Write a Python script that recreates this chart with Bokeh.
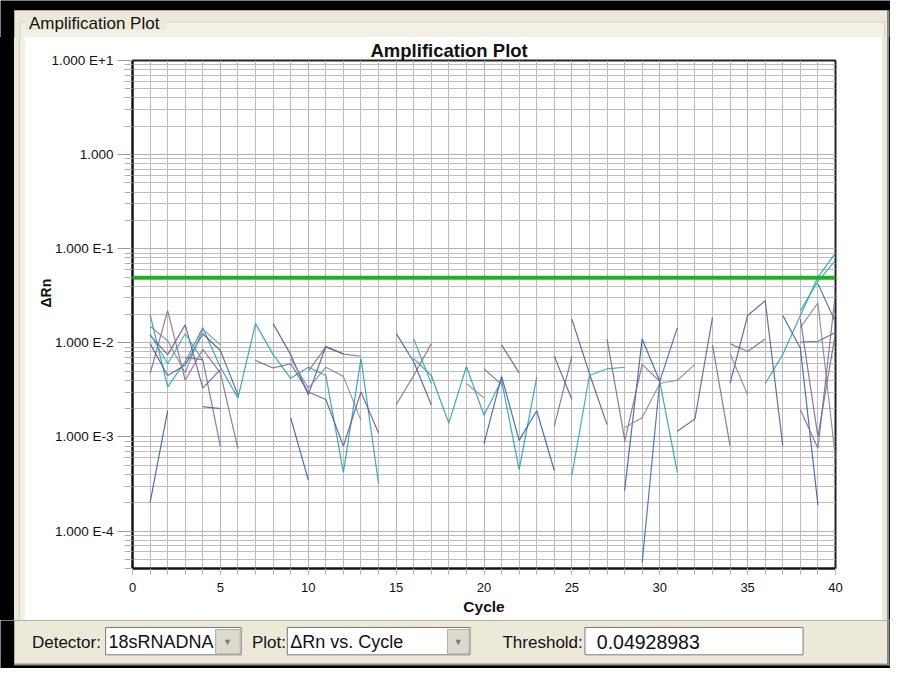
import numpy as np
from bokeh.plotting import figure
from bokeh.layouts import column, row
from bokeh.models import (Range1d, FixedTicker, CustomJSTickFormatter, Span, Title, Div)
from bokeh.core.properties import value
from bokeh.embed import file_html
from bokeh.resources import INLINE

N = None

# ---------------- data (cycles 1..40, None = no value on log scale) ----------
cycles = list(range(1, 41))

well_a = [0.020, 0.0034, 0.0063, 0.0145, 0.0055, 0.0026, 0.016, 0.0075, 0.0042, 0.0055,
          0.0045, 4.2e-4, 0.0068, 3.2e-4, N, 0.0068, 0.0045, 0.0014, 0.0056, 0.0017,
          0.0040, 4.5e-4, 0.0043, N, N, N, N, N, N, 0.0039,
          4.2e-4, N, N, N, N, 0.0037, 0.0075, 0.0195, 0.050, 0.090]
well_b = [2.0e-4, 1.9e-3, N, N, N, N, N, N, 1.6e-3, 3.5e-4,
          N, N, N, N, N, N, N, N, N, 8.5e-4,
          0.0044, 9.2e-4, 0.0019, 4.4e-4, N, N, N, 2.7e-4, 0.011, 0.0039,
          N, N, N, N, N, N, 0.0195, 0.0088, 1.9e-4, N]
well_c = [0.0047, 0.022, 0.0040, 0.0085, 0.0048, 7.5e-4, N, N, N, 0.0050,
          0.0090, 0.0076, 0.0072, N, 0.0022, 0.0045, 0.0098, N, N, 0.0053,
          0.0036, N, N, 0.0013, 0.0072, N, N, 8.9e-4, 0.0059, 0.0039,
          N, N, N, 0.0098, 0.0081, 0.011, N, 0.00195, 7.6e-4, 0.034]
well_d = [0.012, 0.0075, 0.0155, 0.0033, 0.0052, N, 0.0065, 0.0054, 0.0060, 0.0030,
          0.0025, 8.0e-4, 0.0030, 0.0011, N, N, N, N, N, N,
          0.0095, 0.0048, N, 0.0072, 0.0025, N, N, N, N, N,
          0.00115, 0.00155, 0.0186, N, N, N, N, 0.0102, 0.0104, 0.0129]
well_e = [0.0098, 0.0045, 0.0058, 0.0125, 0.0083, 0.0028, N, 0.016, 0.0075, 0.0028,
          0.0092, 0.0076, N, N, 0.0126, 0.0063, 0.0022, N, N, N,
          N, N, N, N, 0.0178, 0.0047, 0.00135, N, N, N,
          N, N, N, 0.0037, 0.0195, 0.028, 8.1e-4, N, N, N]
well_f = [0.015, 0.0105, 0.0048, 0.014, 0.0095, N, N, N, 0.0068, 0.0033,
          0.0055, 0.0044, 0.0015, N, N, N, N, N, 0.0037, 0.0026,
          N, N, N, N, N, N, N, 0.00126, 0.0016, 0.0037,
          0.0040, 0.0059, N, 0.0077, 0.0028, N, N, 0.0145, 0.0266, 5.9e-4]
well_g = [0.0125, 0.0060, 0.0125, 0.0065, N, N, N, N, N, N,
          N, N, N, N, N, 0.011, 0.0037, N, N, N,
          N, N, N, N, 3.9e-4, 0.0045, 0.0053, 0.0055, N, N,
          N, N, N, N, N, N, N, 0.022, 0.045, 0.075]
well_h = [N, N, N, 0.0021, 0.0020, N, N, N, N, N,
          N, N, N, N, N, N, N, N, N, N,
          N, N, N, N, N, N, N, N, 4.6e-5, 0.0039,
          0.0145, N, N, N, N, N, N, N, 0.0425, 0.0166]
well_i = [N, N, 0.0070, 0.0066, 8.0e-4, N, N, N, N, N,
          N, N, N, N, N, N, N, N, N, N,
          N, N, N, N, N, N, 0.011, 9.5e-4, N, N,
          N, N, 0.0095, 8.1e-4, N, N, N, 0.018, 1.0e-3, 0.0129]

wells = [well_a, well_b, well_c, well_d, well_e, well_f, well_g, well_h, well_i]
well_colors = ["#2b9fb6", "#3a62a5", "#8c6b88", "#6a5c98", "#4a6199",
               "#8a8898", "#31aabb", "#3f6db0", "#7c6a93"]

threshold = 0.04928983
y_major = [1e-4, 1e-3, 1e-2, 1e-1, 1.0, 10.0]
x_major = [0, 5, 10, 15, 20, 25, 30, 35, 40]

title_text = "Amplification Plot"
group_text = "Amplification Plot"
x_label = "Cycle"
y_label = "ΔRn"
detector_name = "18sRNADNA"
plot_choice = "ΔRn vs. Cycle"

# ---------------- layout geometry ----------------
# canvas 890 x 668 shows the whole 906 x 684 window, slightly scaled
FONT = "Liberation Sans"
CW, CH = 890, 668
KX, KY = 906 / CW, 684 / CH          # canvas px -> reference px
TOP_H = 37                            # canvas rows 0..37   : window top
MID_H = 583                           # canvas rows 37..620 : plot panel
BOT_H = CH - TOP_H - MID_H            # canvas rows 620..668: controls
LEFT_W, RIGHT_W = 25, 8
MAIN_W = CW - LEFT_W - RIGHT_W
FRAME_L, FRAME_R, FRAME_T, FRAME_B = 132, 835, 59, 568   # canvas px
BEIGE = "#ECE9D8"
BAND = "#F3F1E7"
EDGE = "#8e8e8e"


def strip(h, y_top):
    f = figure(width=CW, height=h, output_backend="svg",
               toolbar_location=None, x_axis_type=None, y_axis_type=None,
               x_range=Range1d(0, CW * KX),
               y_range=Range1d((y_top + h) * KY, y_top * KY),
               min_border=0, outline_line_color=None)
    f.background_fill_color = "black"
    f.border_fill_color = "black"
    return f


def rect(f, x0, x1, y0, y1, fill, line=None, lw=1):
    f.quad(left=[x0], right=[x1], top=[y0], bottom=[y1], fill_color=fill,
           line_color=line, line_width=lw)


def label(f, x, y, t, size, color="#111111", align="left"):
    f.text(x=[x], y=[y], text=[t], text_font=value(FONT),
           text_font_size=f"{size}px", text_baseline="middle",
           text_align=align, text_color=color)


# top strip: black edge, beige window, group box header (reference px)
top = strip(TOP_H, 0)
rect(top, 14, 903, 10, 100, BEIGE)
rect(top, 903, 905, 10, 100, EDGE)
rect(top, 20, 900, 22, 100, BAND, "#d2d0c2")
rect(top, 25, 168, 12, 30, BEIGE)
label(top, 29, 24, group_text, 17)

# side strips
left = Div(text="", width=LEFT_W, height=MID_H, margin=0,
           styles={"background": "linear-gradient(to right, #000 0px, #000 14px, "
                   f"{BEIGE} 14px, {BEIGE} 19px, #d2d0c2 19px, #d2d0c2 20px, "
                   f"{BAND} 20px, {BAND} 25px)", "padding": "0"})
right = Div(text="", width=RIGHT_W, height=MID_H, margin=0,
            styles={"background": f"linear-gradient(to right, {BEIGE} 0px, {BEIGE} 5px, "
                    f"{EDGE} 5px, {EDGE} 7px, #000 7px, #000 8px)", "padding": "0"})

# bottom strip with controls (reference px)
bot = strip(BOT_H, TOP_H + MID_H)
rect(bot, 14, 903, 600, 680, BEIGE)
rect(bot, 903, 905, 600, 681, EDGE)
rect(bot, 14, 905, 679, 681, EDGE)
rect(bot, 107, 245, 642, 670, "white", "#7a7a7a")
rect(bot, 219, 244, 644, 669, "#DCD9CE", "#b0aea4")
rect(bot, 292, 478, 642, 670, "white", "#7a7a7a")
rect(bot, 455, 477, 644, 669, "#DCD9CE", "#b0aea4")
rect(bot, 595, 817, 642, 670, "white", "#7a7a7a")
label(bot, 32, 657, "Detector:", 17)
label(bot, 110, 657, detector_name, 18)
label(bot, 231, 657, "▼", 9, "#777777", "center")
label(bot, 256, 657, "Plot:", 17)
label(bot, 295, 657, plot_choice, 18)
label(bot, 466, 657, "▼", 9, "#777777", "center")
label(bot, 511, 657, "Threshold:", 17)
label(bot, 607, 657, f"{threshold:.8f}", 19.5)

# ---------------- main plot ----------------
p = figure(width=MAIN_W, height=MID_H, output_backend="svg",
           toolbar_location=None, y_axis_type="log",
           x_range=Range1d(0, 40), y_range=Range1d(4.0e-5, 10),
           min_border_left=FRAME_L - LEFT_W, min_border_right=LEFT_W + MAIN_W - FRAME_R,
           min_border_top=FRAME_T - TOP_H, min_border_bottom=TOP_H + MID_H - FRAME_B)
p.border_fill_color = "white"
p.background_fill_color = "white"
p.outline_line_color = "#222222"
p.outline_line_width = 2

p.add_layout(Title(text=title_text, align="left", offset=238, standoff=0,
                   text_font=FONT, text_font_size="18.5px",
                   text_font_style="bold", text_color="#111111"), "above")
p.add_layout(Title(text=y_label, align="left", offset=261, standoff=-10,
                   text_font=FONT, text_font_size="14px",
                   text_font_style="bold", text_color="#111111"), "left")

y_minor = [k * 10.0 ** e for e in range(-5, 1) for k in range(2, 10)]
p.yaxis.ticker = FixedTicker(ticks=y_major, minor_ticks=y_minor)
p.yaxis.formatter = CustomJSTickFormatter(code="""
const e = Math.round(Math.log10(tick));
if (e === 0) return "1.000";
return "1.000 E" + (e > 0 ? "+" : "") + e;
""")
p.xaxis.ticker = FixedTicker(ticks=x_major, minor_ticks=list(range(0, 41)))

for ax in (p.xaxis, p.yaxis):
    ax.axis_line_color = "#111111"
    ax.axis_line_width = 2
    ax.major_tick_in = 0
    ax.minor_tick_in = 0
    ax.major_tick_line_color = "#9a9a9a"
    ax.minor_tick_line_color = "#b0b0b0"
    ax.major_label_text_font = FONT
    ax.major_label_text_color = "#111111"

p.yaxis.major_tick_out = 15
p.yaxis.minor_tick_out = 8
p.yaxis.major_label_standoff = 4
p.yaxis.major_label_text_font_size = "13.5px"
p.xaxis.major_tick_out = 6
p.xaxis.minor_tick_out = 6
p.xaxis.major_label_standoff = 8
p.xaxis.major_label_text_font_size = "13px"
p.xaxis.axis_label = x_label
p.xaxis.axis_label_text_font = FONT
p.xaxis.axis_label_text_font_size = "15.5px"
p.xaxis.axis_label_text_font_style = "bold"
p.xaxis.axis_label_text_color = "#111111"
p.xaxis.axis_label_standoff = 3

for g in (p.xgrid, p.ygrid):
    g.grid_line_color = "#b4b4b4"
    g.minor_grid_line_color = "#bdbdbd"
    g.grid_line_width = 1
    g.minor_grid_line_width = 1

for vals, col in zip(wells, well_colors):
    y = np.array([np.nan if v is None else v for v in vals], dtype=float)
    p.line(cycles, y, line_color=col, line_width=1.2, line_alpha=0.9)

p.add_layout(Span(location=threshold, dimension="width",
                  line_color="#22b022", line_width=4))

layout = column(top, row(left, p, right, spacing=0), bot, spacing=0)
open("out.html", "w").write(file_html(layout, INLINE))
